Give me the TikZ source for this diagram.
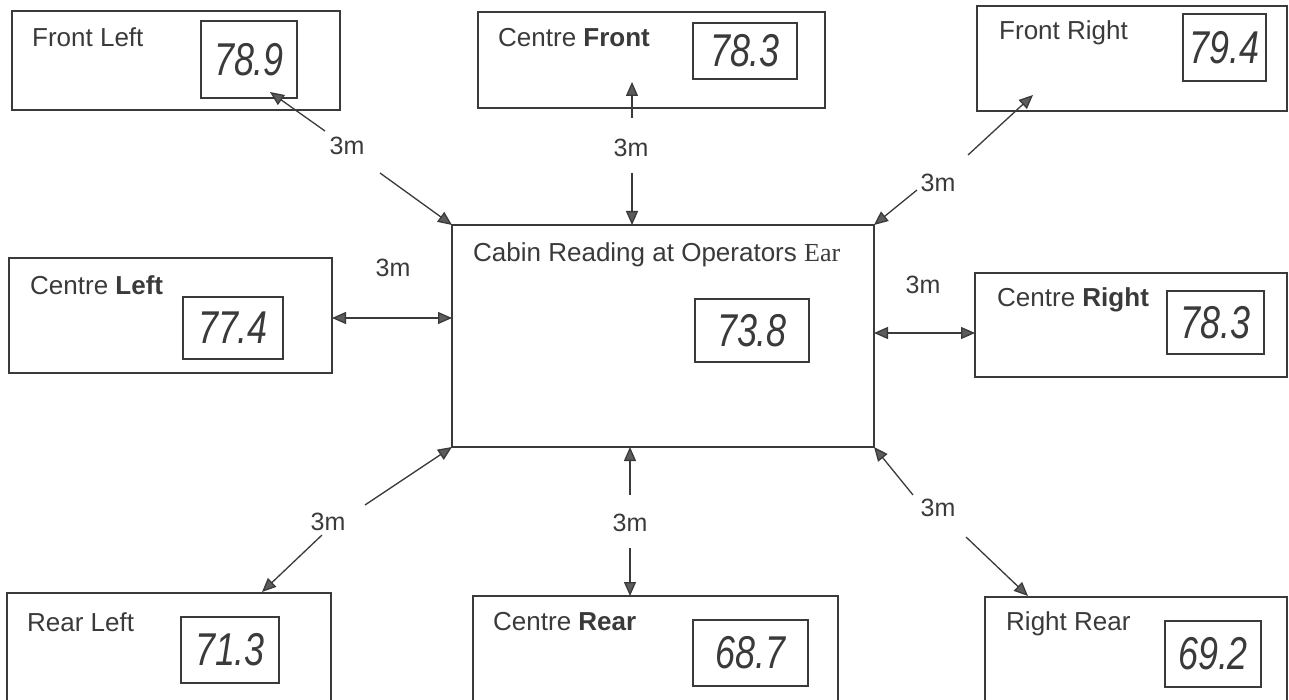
\documentclass[tikz,border=0pt]{standalone}
\usepackage{fontspec}
\setmainfont{Liberation Sans}
\newfontfamily\earfont{Liberation Serif}
\usetikzlibrary{arrows.meta}
\definecolor{ink}{HTML}{3A3A3A}
\definecolor{tipgray}{HTML}{5C5C5C}
\newcommand\handnum[1]{\scalebox{0.78}[1]{\fontsize{46}{46}\selectfont\itshape #1}}
\begin{document}
\begin{tikzpicture}[x=1pt,y=-1pt,
  box/.style={draw=ink, line width=1.3pt, anchor=north west, inner sep=0pt, outer sep=0pt},
  numbox/.style={draw=ink, line width=1.2pt, anchor=north west, inner sep=0pt, outer sep=0pt, text=ink},
  ttl/.style={anchor=west, inner sep=0pt, text=ink, font=\fontsize{26}{26}\selectfont},
  lab/.style={inner sep=0pt, text=ink, font=\fontsize{25}{25}\selectfont},
  arr/.style={draw=ink, line width=1.3pt, -{Triangle[length=14pt,width=12pt,fill=tipgray]}},
  dbl/.style={draw=ink, line width=1.3pt, {Triangle[length=14pt,width=12pt,fill=tipgray]}-{Triangle[length=14pt,width=12pt,fill=tipgray]}}]
\useasboundingbox (0,0) rectangle (1289,700);
\fill[white] (0,0) rectangle (1289,700);

% outer boxes
\node[box, minimum width=328pt, minimum height=99pt] (fl) at (12,11) {};
\node[box, minimum width=347pt, minimum height=96pt] (cf) at (478,12) {};
\node[box, minimum width=310pt, minimum height=105pt] (fr) at (977,6) {};
\node[box, minimum width=323pt, minimum height=115pt] (cl) at (9,258) {};
\node[box, minimum width=422pt, minimum height=222pt] (main) at (452,225) {};
\node[box, minimum width=312pt, minimum height=104pt] (cr) at (975,273) {};
\node[box, minimum width=324pt, minimum height=110pt] (rl) at (7,593) {};
\node[box, minimum width=365pt, minimum height=107pt] (cre) at (473,596) {};
\node[box, minimum width=302pt, minimum height=106pt] (rr) at (985,597) {};

% titles
\node[ttl] (tfl) at (32,37) {Front Left};
\node[ttl] (tcf) at (498,38) {Centre \textbf{Front}};
\node[ttl] (tfr) at (999,33) {Front Right};
\node[ttl] (tcl) at (30,285) {Centre \textbf{Left}};
\node[ttl] (tmain) at (473,255) {Cabin Reading at Operators {\earfont Ear}};
\node[ttl] (tcr) at (997,300) {Centre \textbf{Right}};
\node[ttl] (trl) at (27,622) {Rear Left};
\node[ttl] (tcre) at (493,622) {Centre \textbf{Rear}};
\node[ttl] (trr) at (1006,624) {Right Rear};

% number boxes
\node[numbox, minimum width=96pt, minimum height=77pt] (nfl) at (201,21) {\handnum{78.9}};
\node[numbox, minimum width=104pt, minimum height=56pt] (ncf) at (693,23) {\handnum{78.3}};
\node[numbox, minimum width=83pt, minimum height=67pt] (nfr) at (1183,14) {\handnum{79.4}};
\node[numbox, minimum width=100pt, minimum height=62pt] (ncl) at (183,297) {\handnum{77.4}};
\node[numbox, minimum width=114pt, minimum height=63pt] (nmain) at (695,299) {\handnum{73.8}};
\node[numbox, minimum width=97pt, minimum height=63pt] (ncr) at (1167,291) {\handnum{78.3}};
\node[numbox, minimum width=98pt, minimum height=66pt] (nrl) at (181,617) {\handnum{71.3}};
\node[numbox, minimum width=115pt, minimum height=66pt] (ncre) at (693,620) {\handnum{68.7}};
\node[numbox, minimum width=96pt, minimum height=66pt] (nrr) at (1165,621) {\handnum{69.2}};

% distance labels
\node[lab] (lfl) at (347,146) {3m};
\node[lab] (lcf) at (631,148) {3m};
\node[lab] (lfr) at (938,183) {3m};
\node[lab] (lcl) at (393,268) {3m};
\node[lab] (lcr) at (923,285) {3m};
\node[lab] (lrl) at (328,522) {3m};
\node[lab] (lcre) at (630,523) {3m};
\node[lab] (lrr) at (938,508) {3m};

% gap ends and tips
\coordinate (flA) at (325,131); \coordinate (flT) at (270,92); \coordinate (flB) at (380,173);
\coordinate (cfA) at (632,118); \coordinate (cfT) at (632,82); \coordinate (cfB) at (632,173);
\coordinate (frA) at (968,155); \coordinate (frT) at (1033,95); \coordinate (frB) at (917,190);
\coordinate (rlA) at (365,505); \coordinate (rlB) at (322,535); \coordinate (rlT) at (262,592);
\coordinate (creA) at (630,495); \coordinate (creB) at (630,548);
\coordinate (rrA) at (913,495); \coordinate (rrB) at (966,537); \coordinate (rrT) at (1028,596);

% connectors
\draw[arr] (flA) -- (flT);
\draw[arr] (flB) -- (main.north west);
\draw[arr] (cfA) -- (cfT);
\draw[arr] (cfB) -- (main.north west -| cfB);
\draw[arr] (frA) -- (frT);
\draw[arr] (frB) -- (main.north east);
\draw[dbl] (cl.east |- 0,318) -- (main.west |- 0,318);
\draw[dbl] (main.east |- 0,333) -- (cr.west |- 0,333);
\draw[arr] (rlA) -- (main.south west);
\draw[arr] (rlB) -- (rlT);
\draw[arr] (creA) -- (main.south west -| creA);
\draw[arr] (creB) -- (cre.north west -| creB);
\draw[arr] (rrA) -- (main.south east);
\draw[arr] (rrB) -- (rrT);
\end{tikzpicture}
\end{document}
